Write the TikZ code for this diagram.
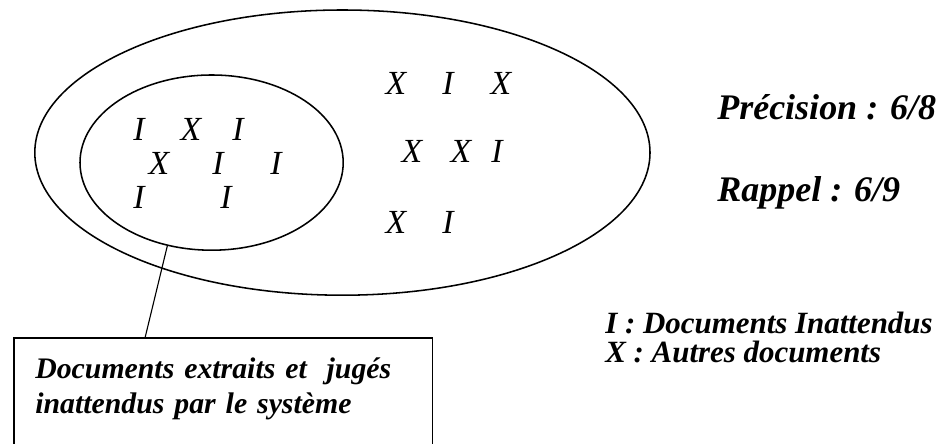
\documentclass[tikz,border=0pt]{standalone}
\usepackage{fontspec}
\setmainfont{Liberation Serif}
\usetikzlibrary{shapes.geometric}

\tikzset{
  docset/.style={draw, ellipse, line width=1.1pt, inner sep=0pt},
  doc/.style={font=\fontsize{24}{28}\selectfont\itshape, inner sep=0pt},
  measure/.style={font=\fontsize{25.6}{30}\selectfont\bfseries\itshape, inner sep=0pt, anchor=base west},
  legend/.style={font=\fontsize{22}{20.3}\selectfont\bfseries\itshape, inner sep=0pt, anchor=base west, align=left},
  callout/.style={anchor=north west, align=left, text width=9.4cm,
    inner xsep=0.525cm, minimum height=2.55cm, font=\fontsize{21.2}{24.9}\selectfont\bfseries\itshape}
}

\begin{document}
\begin{tikzpicture}
\clip (0,0) rectangle (23.475,11.075);
% the two sets
\node[docset, minimum width=15.38cm, minimum height=7.13cm] (outer) at (8.56,7.26) {};
\node[docset, minimum width=6.58cm, minimum height=4.38cm] (inner) at (5.29,7.01) {};
% documents outside the extracted set
\node[doc] (o1) at (9.9,9.0) {X};
\node[doc] (o2) at (11.2,9.0) {I};
\node[doc] (o3) at (12.525,9.0) {X};
\node[doc] (o4) at (10.3,7.3) {X};
\node[doc] (o5) at (11.525,7.3) {X};
\node[doc] (o6) at (12.425,7.3) {I};
\node[doc] (o7) at (9.9,5.525) {X};
\node[doc] (o8) at (11.2,5.525) {I};
% documents extracted by the system
\node[doc] (i1) at (3.475,7.85) {I};
\node[doc] (i2) at (4.775,7.85) {X};
\node[doc] (i3) at (5.95,7.85) {I};
\node[doc] (i4) at (3.975,7.0) {X};
\node[doc] (i5) at (5.45,7.0) {I};
\node[doc] (i6) at (6.9,7.0) {I};
\node[doc] (i7) at (3.475,6.15) {I};
\node[doc] (i8) at (5.65,6.15) {I};
% measures and legend
\node[measure] (prec) at (17.925,8.1) {Précision : 6/8};
\node[measure] (rapp) at (17.925,6.05) {Rappel : 6/9};
\node[legend] (leg) at (15.125,2.02) {I : Documents Inattendus\\X : Autres documents};
% callout box, cut off at the bottom
\node[callout] (box) at (0.35,2.625) {Documents extraits et \ jugés\\inattendus par le système};
\draw[line width=1.1pt] ([yshift=-1cm]box.south west) rectangle (box.north east);
\draw[line width=0.8pt] (inner.242) -- ([xshift=3.275cm]box.north west);
\end{tikzpicture}
\end{document}
